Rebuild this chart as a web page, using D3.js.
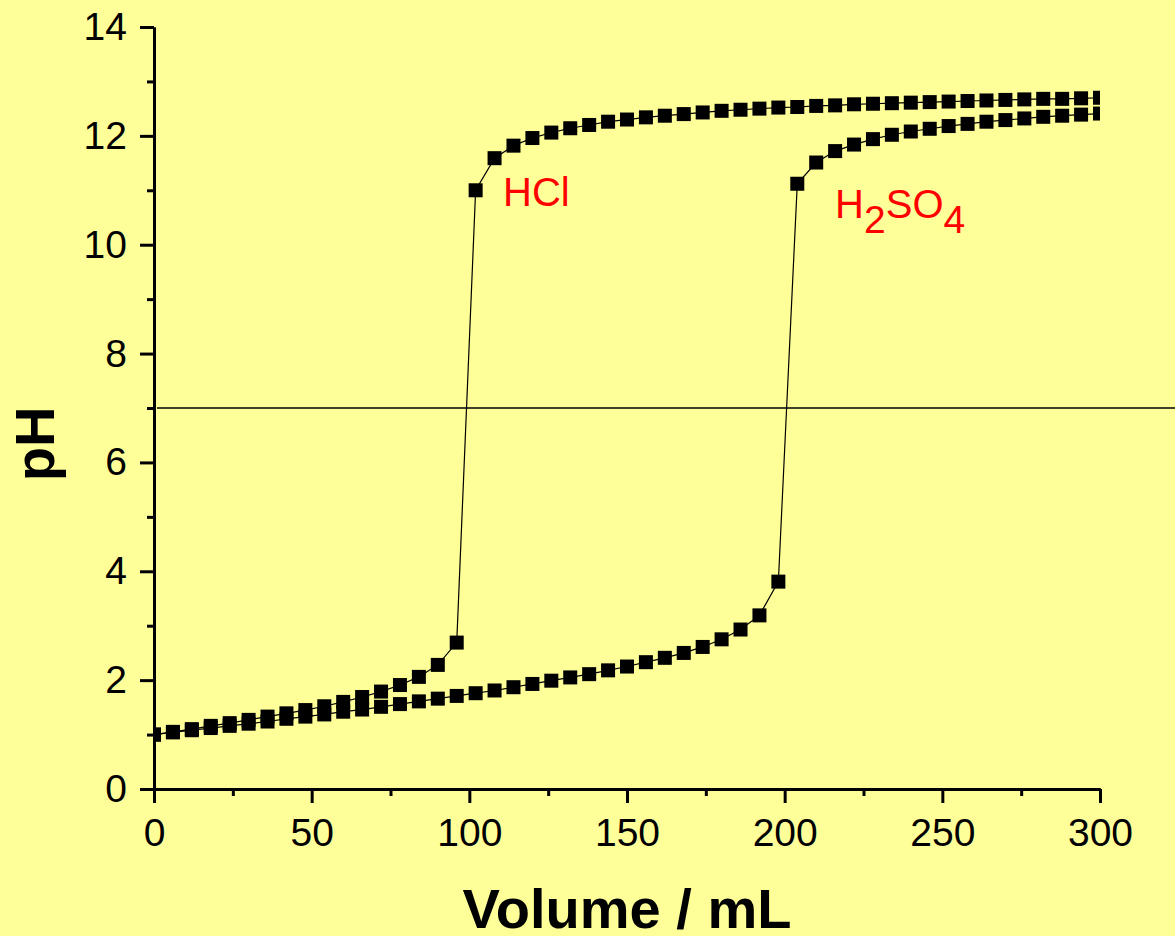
<!DOCTYPE html>
<html>
<head>
<meta charset="utf-8">
<script src="https://cdn.jsdelivr.net/npm/d3@7"></script>
<style>
  body { margin: 0; background: #ffff99; }
  svg { display: block; font-family: "Liberation Sans", Arial, sans-serif; }
</style>
</head>
<body>
<div id="main"></div>
<script>
// volumes of NaOH added (mL)
var volumes = [0, 6, 12, 18, 24, 30, 36, 42, 48, 54, 60, 66, 72, 78, 84, 90, 96,
  102, 108, 114, 120, 126, 132, 138, 144, 150, 156, 162, 168, 174, 180, 186, 192, 198,
  204, 210, 216, 222, 228, 234, 240, 246, 252, 258, 264, 270, 276, 282, 288, 294, 300];

var phHCl = [1.00, 1.05, 1.10, 1.16, 1.21, 1.27, 1.33, 1.39, 1.45, 1.52, 1.60, 1.69, 1.79, 1.91, 2.06, 2.28, 2.69,
  11.00, 11.59, 11.82, 11.96, 12.06, 12.14, 12.20, 12.26, 12.30, 12.34, 12.37, 12.40, 12.43, 12.46, 12.48, 12.50, 12.52,
  12.53, 12.55, 12.56, 12.58, 12.59, 12.60, 12.61, 12.62, 12.63, 12.64, 12.65, 12.66, 12.67, 12.68, 12.68, 12.69, 12.70];

var phH2SO4 = [1.00, 1.04, 1.08, 1.12, 1.16, 1.20, 1.24, 1.29, 1.33, 1.37, 1.42, 1.46, 1.51, 1.56, 1.61, 1.66, 1.71,
  1.76, 1.81, 1.87, 1.93, 1.99, 2.05, 2.11, 2.18, 2.25, 2.33, 2.41, 2.50, 2.61, 2.75, 2.93, 3.19, 3.81,
  11.12, 11.51, 11.72, 11.84, 11.94, 12.02, 12.08, 12.13, 12.18, 12.22, 12.26, 12.29, 12.32, 12.35, 12.37, 12.39, 12.41];

var xMajor = [0, 50, 100, 150, 200, 250, 300];
var xMinor = [25, 75, 125, 175, 225, 275];
var yMajor = [0, 2, 4, 6, 8, 10, 12, 14];
var yMinor = [1, 3, 5, 7, 9, 11, 13];

var neutralPH = 7;
// label anchors in data units [volume, pH]
var labelHCl = [110.7, 10.71];
var labelH2SO4 = [216, 10.49];

var W = 1175, H = 936;
var margin = {top: 27, right: 75, bottom: 147, left: 154},
  width = W - margin.left - margin.right,
  height = H - margin.top - margin.bottom;

var svgRoot = d3.select("#main")
  .append("svg")
  .attr("width", W)
  .attr("height", H);

svgRoot.append("rect").attr("width", W).attr("height", H).attr("fill", "#ffff99");

var svg = svgRoot.append("g")
  .attr("transform", "translate(" + margin.left + "," + margin.top + ")");

var x = d3.scaleLinear().domain([0, 300]).range([0, width]);
var y = d3.scaleLinear().domain([0, 14]).range([height, 0]);

svg.append("clipPath").attr("id", "plotclip")
  .append("rect").attr("x", 0).attr("y", 0).attr("width", width).attr("height", height);

// pH 7 reference line, runs to the right edge of the picture
svg.append("line")
  .attr("x1", 3).attr("x2", W - margin.left)
  .attr("y1", y(neutralPH)).attr("y2", y(neutralPH))
  .attr("stroke", "#000").attr("stroke-width", 1.5);

var plot = svg.append("g").attr("clip-path", "url(#plotclip)");

var line = d3.line()
  .x(function (d) { return x(d[0]); })
  .y(function (d) { return y(d[1]); });

[phHCl, phH2SO4].forEach(function (series) {
  var pts = volumes.map(function (v, i) { return [v, series[i]]; });
  plot.append("path")
    .datum(pts)
    .attr("fill", "none")
    .attr("stroke", "#000")
    .attr("stroke-width", 1.2)
    .attr("d", line);
  plot.selectAll(null)
    .data(pts)
    .enter()
    .append("rect")
    .attr("x", function (d) { return x(d[0]) - 7; })
    .attr("y", function (d) { return y(d[1]) - 7; })
    .attr("width", 14)
    .attr("height", 14)
    .attr("fill", "#000");
});

// axes
function styleAxis(g) {
  g.selectAll("path.domain").attr("stroke-width", 3);
  g.selectAll(".tick line").attr("stroke-width", 3);
  g.selectAll("text").attr("font-size", 39).attr("fill", "#000")
    .attr("font-family", "'Liberation Sans', Arial, sans-serif");
}

svg.append("g")
  .attr("transform", "translate(0," + height + ")")
  .call(d3.axisBottom(x).tickValues(xMinor).tickSize(7).tickSizeOuter(0).tickFormat(""))
  .call(styleAxis);
svg.append("g")
  .attr("transform", "translate(0," + height + ")")
  .call(d3.axisBottom(x).tickValues(xMajor).tickSize(14).tickSizeOuter(0).tickPadding(15).tickFormat(d3.format("d")))
  .call(styleAxis);

svg.append("g")
  .call(d3.axisLeft(y).tickValues(yMinor).tickSize(7).tickSizeOuter(0).tickFormat(""))
  .call(styleAxis);
svg.append("g")
  .call(d3.axisLeft(y).tickValues(yMajor).tickSize(14).tickSizeOuter(0).tickPadding(13).tickFormat(d3.format("d")))
  .call(styleAxis);

// axis titles
svgRoot.append("text")
  .attr("x", margin.left + width / 2)
  .attr("y", 928)
  .attr("text-anchor", "middle")
  .attr("font-weight", "bold")
  .attr("font-size", 56)
  .text("Volume / mL");

svgRoot.append("text")
  .attr("transform", "translate(54,444) rotate(-90)")
  .attr("text-anchor", "middle")
  .attr("font-weight", "bold")
  .attr("font-size", 56)
  .text("pH");

// series labels
svg.append("text")
  .attr("x", x(labelHCl[0]))
  .attr("y", y(labelHCl[1]))
  .attr("fill", "#ff0000")
  .attr("font-size", 40)
  .text("HCl");

var t = svg.append("text")
  .attr("x", x(labelH2SO4[0]))
  .attr("y", y(labelH2SO4[1]))
  .attr("fill", "#ff0000")
  .attr("font-size", 40);
t.append("tspan").text("H");
t.append("tspan").attr("dy", 15).attr("font-size", 39).text("2");
t.append("tspan").attr("dy", -15).text("SO");
t.append("tspan").attr("dy", 15).attr("font-size", 39).text("4");
</script>
</body>
</html>
